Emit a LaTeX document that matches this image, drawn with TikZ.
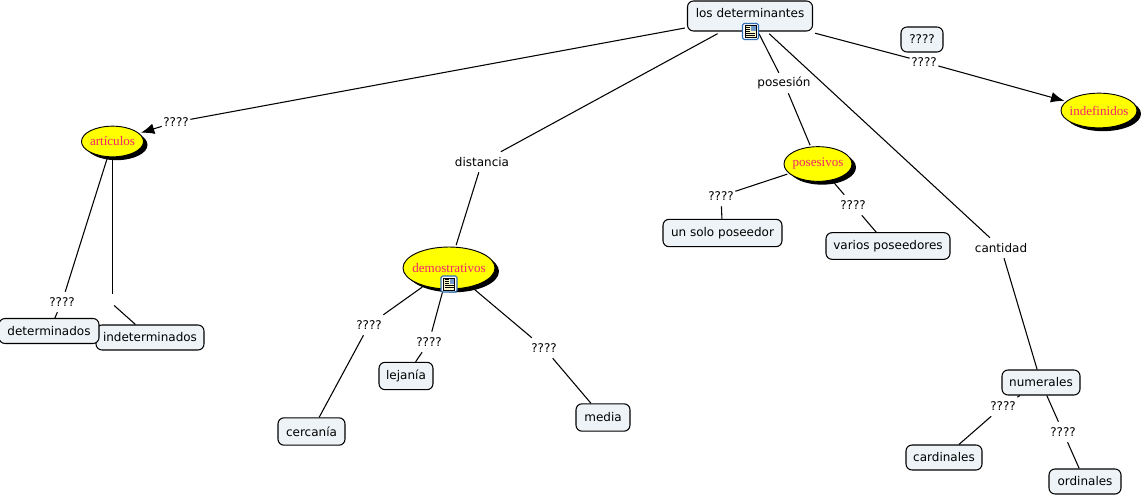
\documentclass[tikz,border=0pt]{standalone}
\usepackage{fontspec}
\setmainfont{DejaVu Sans}
\newfontfamily\ovalfont{Liberation Serif}
\usetikzlibrary{shapes.geometric,shadows,arrows.meta}
\definecolor{boxfill}{HTML}{EDF3F6}
\definecolor{ovalfill}{RGB}{255,255,0}
\definecolor{ovaltext}{HTML}{F5256B}
\definecolor{iconblue}{HTML}{2F6DB5}
\definecolor{iconpaper}{HTML}{FBF7C8}
\tikzset{
	concept/.style={draw=black,line width=0.8pt,fill=boxfill,rounded corners=4.5pt,inner sep=0pt,font=\fontsize{9}{11}\selectfont},
	oval/.style={ellipse,draw=black,line width=0.7pt,fill=ovalfill,inner sep=0pt,outer sep=1.5pt,text=ovaltext,font=\ovalfont\fontsize{9.8}{11}\selectfont,drop shadow={shadow xshift=3pt,shadow yshift=-2.5pt,opacity=1,fill=black}},
	linklabel/.style={inner sep=1pt,minimum height=15pt,font=\fontsize{9}{11}\selectfont},
	link/.style={line width=0.8pt},
	pics/noteicon/.style={code={
		\draw[iconblue,line width=0.8pt,fill=white,rounded corners=1.2pt] (-8,-8) rectangle (8,8);
		\draw[black,line width=0.5pt,fill=iconpaper] (-5.5,-6) rectangle (5.5,6);
		\fill[iconblue!70] (0.5,-5.5) rectangle (5,-0.5);
		\foreach \y in {1.5,3.5}
			\draw[black,line width=0.4pt] (-4.5,\y) -- (4.5,\y);
		\foreach \y in {-4.5,-2.5,-0.5}
			\draw[black,line width=0.4pt] (-4.5,\y) -- (-0.5,\y);
	}}
}
\begin{document}
\begin{tikzpicture}[x=0.75pt,y=-0.75pt]
		\useasboundingbox (0,0) rectangle (1142,496);
		\fill[white] (0,0) rectangle (1142,496);
		% boxes
		\node[concept,minimum width=93.75pt,minimum height=22.5pt,outer sep=2pt,text depth=5pt] (root) at (750,16) {los determinantes};
		\node[concept,minimum width=31.5pt,minimum height=18.75pt] (unknown) at (922,39.5) {????};
		\node[concept,minimum width=89.25pt,minimum height=20.5pt] (unsolo) at (722.5,233) {un solo poseedor};
		\node[concept,minimum width=93pt,minimum height=20pt] (varios) at (888,246) {varios poseedores};
		\node[concept,minimum width=81pt,minimum height=18.75pt] (indet) at (150,337.5) {indeterminados};
		\node[concept,minimum width=75pt,minimum height=18.75pt] (det) at (49,331) {determinados};
		\node[concept,minimum width=40.5pt,minimum height=20.5pt] (lejania) at (406,376) {lejanía};
		\node[concept,minimum width=50.25pt,minimum height=20.5pt] (cercania) at (311.5,431.5) {cercanía};
		\node[concept,minimum width=40.5pt,minimum height=20.5pt] (media) at (603,417.5) {media};
		\node[concept,minimum width=58.5pt,minimum height=18.75pt] (numerales) at (1041,382.5) {numerales};
		\node[concept,minimum width=57pt,minimum height=18.75pt] (cardinales) at (944,457.5) {cardinales};
		\node[concept,minimum width=54pt,minimum height=18.75pt] (ordinales) at (1085,481.5) {ordinales};
		% ovals
		\node[oval,minimum width=46.5pt,minimum height=23pt] (articulos) at (112.5,141.5) {\makebox[0pt]{artículos}};
		\node[oval,minimum width=69pt,minimum height=31.5pt] (demos) at (449,268) {\makebox[0pt]{demostrativos}};
		\node[oval,minimum width=51pt,minimum height=26pt] (posesivos) at (818,164) {\makebox[0pt]{posesivos}};
		\node[oval,minimum width=57pt,minimum height=26pt] (indef) at (1099,110.5) {\makebox[0pt]{indefinidos}};
		% link labels
		\node[linklabel] (larticulos) at (176,122) {????};
		\node[linklabel] (ldet) at (62,302) {????};
		\node[linklabel,minimum width=2pt] (lindet) at (112.5,304) {};
		\node[linklabel] (distancia) at (482,162) {distancia};
		\node[linklabel] (lcercania) at (369,325) {????};
		\node[linklabel] (llejania) at (429,342) {????};
		\node[linklabel] (lmedia) at (544,348) {????};
		\node[linklabel] (posesion) at (784,83) {posesión};
		\node[linklabel] (lunsolo) at (721,196) {????};
		\node[linklabel] (lvarios) at (853,205) {????};
		\node[linklabel] (cantidad) at (1001,248) {cantidad};
		\node[linklabel] (lcardinales) at (1003,406) {????};
		\node[linklabel] (lordinales) at (1063,432) {????};
		\node[linklabel] (lindef) at (924,62) {????};
		% connectors
		\draw[link] (root) -- (larticulos);
		\draw[link,-{Latex[length=10pt,width=8pt]}] (larticulos) -- (articulos);
		\draw[link] (articulos) -- (ldet);
		\draw[link] (ldet) -- (det);
		\draw[link] (articulos) -- (lindet);
		\draw[link] (lindet) -- (indet);
		\draw[link] (root) -- (distancia);
		\draw[link] (distancia) -- (demos);
		\draw[link] (demos) -- (lcercania);
		\draw[link] (lcercania) -- (cercania);
		\draw[link] (demos) -- (llejania);
		\draw[link] (llejania) -- (lejania);
		\draw[link] (demos) -- (lmedia);
		\draw[link] (lmedia) -- (media);
		\draw[link] (root) -- (posesion);
		\draw[link] (posesion) -- (posesivos);
		\draw[link] (posesivos) -- (lunsolo);
		\draw[link] (lunsolo) -- (unsolo);
		\draw[link] (posesivos) -- (lvarios);
		\draw[link] (lvarios) -- (varios);
		\draw[link] (root) -- (cantidad);
		\draw[link] (cantidad) -- (numerales);
		\draw[link] (numerales) -- (lcardinales);
		\draw[link] (lcardinales) -- (cardinales);
		\draw[link] (numerales) -- (lordinales);
		\draw[link] (lordinales) -- (ordinales);
		\draw[link] (root) -- (lindef);
		\draw[link,-{Latex[length=10pt,width=8pt]}] (lindef) -- (indef);
		% icons
		\pic at (750.5,31.5) {noteicon};
		\pic at (449,284) {noteicon};
		\end{tikzpicture}
\end{document}
